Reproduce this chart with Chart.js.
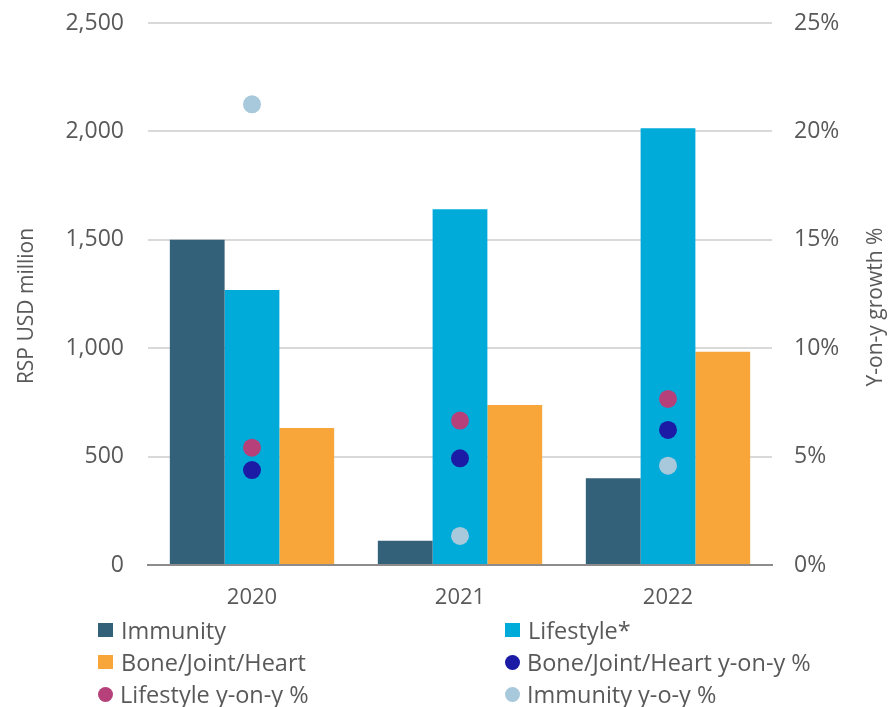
<!DOCTYPE html>
<html lang="en">
<head>
<meta charset="utf-8">
<title>RSP by category</title>
<script src="https://cdn.jsdelivr.net/npm/chart.js@4.4.1/dist/chart.umd.min.js"></script>
<style>
    html, body {
        margin: 0;
        padding: 0;
        background: #ffffff;
    }
    #wrap {
        position: relative;
        width: 894px;
        height: 707px;
    }
    #legend {
        position: absolute;
        left: 98px;
        top: 614px;
        display: grid;
        grid-template-columns: 407px 380px;
        grid-auto-rows: 32px;
        font-family: 'Open Sans', sans-serif;
        font-size: 23.5px;
        color: #595959;
    }
    #legend .item {
        display: flex;
        align-items: center;
        white-space: nowrap;
    }
    #legend .box {
        width: 15px;
        height: 14px;
        margin-right: 8px;
    }
    #legend .dot {
        width: 15px;
        height: 15px;
        border-radius: 50%;
        margin-right: 7px;
    }
</style>
</head>
<body>
<div id="wrap">
    <canvas id="rsp-chart" width="894" height="707"></canvas>
    <div id="legend"></div>
</div>
<script>
// Years on the category axis
const years = ['2020', '2021', '2022'];

// RSP, USD million
const immunity = [1500, 112, 400];
const lifestyle = [1268, 1641, 2015];
const boneJointHeart = [632, 738, 984];

// Year-on-year growth, %
const boneJointHeartYoy = [4.38, 4.92, 6.23];
const lifestyleYoy = [5.41, 6.66, 7.66];
const immunityYoy = [21.25, 1.34, 4.58];

// Ticks of both value axes
const rspTicks = [0, 500, 1000, 1500, 2000, 2500];
const growthTicks = [0, 5, 10, 15, 20, 25];

const colors = {
    immunity: '#34617a',
    lifestyle: '#00abd9',
    bone: '#f8a53a',
    boneYoy: '#1b1ba6',
    lifestyleYoy: '#b5407a',
    immunityYoy: '#a8c8db',
    text: '#595959',
    grid: '#d9d9d9',
    axis: '#8c8c8c'
};

const FONT = "'Open Sans', sans-serif";

// Builds a scatter-style dataset on the growth axis
function growthDataset(label, data, color) {
    return {
        type: 'line',
        label: label,
        data: data,
        yAxisID: 'y1',
        showLine: false,
        pointRadius: 9,
        pointHoverRadius: 9,
        pointBackgroundColor: color,
        pointBorderWidth: 0,
        backgroundColor: color,
        borderColor: color,
        order: 1,
        legendShape: 'dot'
    };
}

function barDataset(label, data, color) {
    return {
        type: 'bar',
        label: label,
        data: data,
        yAxisID: 'y',
        backgroundColor: color,
        borderWidth: 0,
        barPercentage: 1,
        categoryPercentage: 0.79,
        order: 2,
        legendShape: 'box'
    };
}

// Fixes the width of a value axis and drops the label overhang padding,
// so the plot area is set by layout.padding alone
function fixedWidth(width) {
    return function(scale) {
        scale.width = width;
        scale.paddingTop = 0;
        scale.paddingBottom = 0;
    };
}

// Draws a rotated title reading bottom to top
function drawVerticalTitle(ctx, text, x, y) {
    ctx.save();
    ctx.fillStyle = colors.text;
    ctx.font = '21px ' + FONT;
    ctx.textAlign = 'center';
    ctx.textBaseline = 'middle';
    ctx.translate(x, y);
    ctx.rotate(-Math.PI / 2);
    ctx.fillText(text, 0, 0);
    ctx.restore();
}

const axisTitles = {
    id: 'axisTitles',
    afterDraw(chart) {
        drawVerticalTitle(chart.ctx, 'RSP USD million', 27, 306);
        drawVerticalTitle(chart.ctx, 'Y-on-y growth %', 876, 307);
    }
};

const datasets = [
    barDataset('Immunity', immunity, colors.immunity),
    barDataset('Lifestyle*', lifestyle, colors.lifestyle),
    barDataset('Bone/Joint/Heart', boneJointHeart, colors.bone),
    growthDataset('Bone/Joint/Heart y-on-y %', boneJointHeartYoy, colors.boneYoy),
    growthDataset('Lifestyle y-on-y %', lifestyleYoy, colors.lifestyleYoy),
    growthDataset('Immunity y-o-y %', immunityYoy, colors.immunityYoy)
];

const ctx = document.getElementById('rsp-chart').getContext('2d');

const chart = new Chart(ctx, {
    data: {
        labels: years,
        datasets: datasets
    },
    options: {
        responsive: false,
        animation: false,
        layout: {
            padding: { top: 23, left: 0, right: 0, bottom: 0 }
        },
        plugins: {
            legend: { display: false },
            tooltip: { enabled: false }
        },
        scales: {
            x: {
                grid: { display: false, drawTicks: false },
                border: { color: colors.axis, width: 2 },
                ticks: {
                    color: colors.text,
                    font: { family: FONT, size: 22 },
                    padding: 20
                },
                afterFit(scale) {
                    scale.height = 142;
                }
            },
            y: {
                position: 'left',
                min: 0,
                max: 2500,
                afterBuildTicks(scale) {
                    scale.ticks = rspTicks.map(v => ({ value: v }));
                },
                grid: { color: colors.grid, lineWidth: 2, drawTicks: false },
                border: { display: false },
                ticks: {
                    color: colors.text,
                    font: { family: FONT, size: 23 },
                    padding: 24,
                    callback: v => v.toLocaleString('en-US')
                },
                afterFit: fixedWidth(148)
            },
            y1: {
                position: 'right',
                min: 0,
                max: 25,
                afterBuildTicks(scale) {
                    scale.ticks = growthTicks.map(v => ({ value: v }));
                },
                grid: { drawOnChartArea: false, drawTicks: false },
                border: { display: false },
                ticks: {
                    color: colors.text,
                    font: { family: FONT, size: 23 },
                    padding: 22,
                    callback: v => v + '%'
                },
                afterFit: fixedWidth(122)
            }
        }
    },
    plugins: [axisTitles]
});

// Two-column legend built from the datasets
const legendEl = document.getElementById('legend');
chart.data.datasets.forEach(ds => {
    const item = document.createElement('div');
    item.className = 'item';
    const marker = document.createElement('span');
    marker.className = ds.legendShape;
    marker.style.background = ds.backgroundColor;
    const text = document.createElement('span');
    text.textContent = ds.label;
    item.appendChild(marker);
    item.appendChild(text);
    legendEl.appendChild(item);
});
</script>
</body>
</html>
